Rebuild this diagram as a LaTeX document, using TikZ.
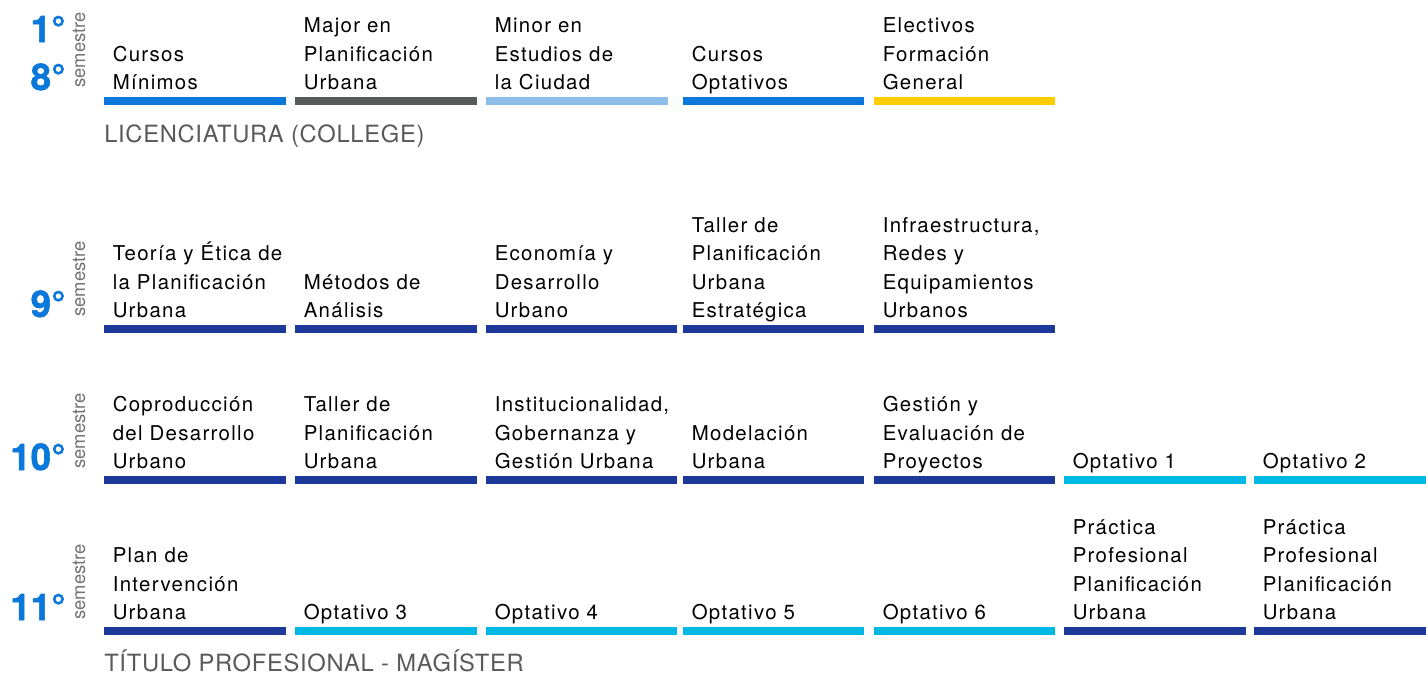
\documentclass[tikz,border=0pt]{standalone}
\usepackage{fontspec}
\setmainfont{TeX Gyre Heros}
\newfontfamily\coursefont[LetterSpace=6.5]{TeX Gyre Heros}
\newfontfamily\headfont[LetterSpace=3]{TeX Gyre Heros}
\newfontfamily\numfont[FakeBold=1.5]{texgyreheros-bold.otf}
\definecolor{midblue}{RGB}{10,120,218}
\definecolor{majorgray}{RGB}{88,89,91}
\definecolor{minorblue}{RGB}{141,190,233}
\definecolor{electyellow}{RGB}{255,204,0}
\definecolor{navy}{RGB}{28,56,152}
\definecolor{optcyan}{RGB}{0,184,228}
\definecolor{headgray}{RGB}{90,90,94}
\definecolor{wordgray}{RGB}{115,115,118}

\begin{document}
\begin{tikzpicture}[x=0.75pt, y=-0.75pt,
                    course/.style={anchor=south west, inner sep=0pt, align=left, text depth=0pt,
                                   font=\coursefont\fontsize{15.3}{21.4}\selectfont},
                    header/.style={anchor=base west, inner sep=0pt, text=headgray,
                                   font=\headfont\fontsize{17.8}{20}\selectfont},
                    semnum/.style={anchor=base east, inner sep=0pt, text=midblue,
                                   font=\numfont\fontsize{27.5}{30}\selectfont},
                    semword/.style={rotate=90, anchor=base west, inner sep=0pt, text=wordgray,
                                    font=\fontsize{13.8}{14}\selectfont}]
  \fill[white] (0,0) rectangle (1426,675);
  \useasboundingbox (0,0) rectangle (1426,675);

  % semester labels
  \node[semnum] (num1) at (66,42) {1°};
  \node[semnum] (num8) at (66,90) {8°};
  \node[semword] (sem1) at (85,88) {semestre};
  \node[semnum] (num9) at (66,317) {9°};
  \node[semword] (sem9) at (85,317) {semestre};
  \node[semnum] (num10) at (66,470) {10°};
  \node[semword] (sem10) at (85,469) {semestre};
  \node[semnum] (num11) at (66,620) {11°};
  \node[semword] (sem11) at (85,620) {semestre};

  % bars
  \foreach \xa/\xb/\c in {104/286/midblue, 295/477/majorgray, 486/668/minorblue,
                          683/864/midblue, 874/1055/electyellow}
    \fill[\c] (\xa,97) rectangle (\xb,105);
  \foreach \xa/\xb/\c in {104/286/navy, 295/477/navy, 486/677/navy,
                          683/864/navy, 874/1055/navy}
    \fill[\c] (\xa,325) rectangle (\xb,333);
  \foreach \xa/\xb/\c in {104/286/navy, 295/477/navy, 486/677/navy, 683/864/navy,
                          874/1055/navy, 1064/1246/optcyan, 1254/1426/optcyan}
    \fill[\c] (\xa,476) rectangle (\xb,484);
  \foreach \xa/\xb/\c in {104/286/navy, 295/477/optcyan, 486/677/optcyan, 683/864/optcyan,
                          874/1055/optcyan, 1064/1246/navy, 1254/1426/navy}
    \fill[\c] (\xa,627) rectangle (\xb,635);

  % college
  \node[course] (minimos) at (112.5,90) {Cursos\\Mínimos};
  \node[course] (major) at (303.5,90) {Major en\\Planificación\\Urbana};
  \node[course] (minor) at (494.5,90) {Minor en\\Estudios de\\la Ciudad};
  \node[course] (optativos) at (691.5,90) {Cursos\\Optativos};
  \node[course] (electivos) at (882.5,90) {Electivos\\Formación\\General};
  \node[header] (college) at (104,142.7) {LICENCIATURA (COLLEGE)};

  % 9th semester
  \node[course] (teoria) at (112.5,318) {Teoría y Ética de\\la Planificación\\Urbana};
  \node[course] (metodos) at (303.5,318) {Métodos de\\Análisis};
  \node[course] (economia) at (494.5,318) {Economía y\\Desarrollo\\Urbano};
  \node[course] (tallerest) at (691.5,318) {Taller de\\Planificación\\Urbana\\Estratégica};
  \node[course] (infra) at (882.5,318) {Infraestructura,\\Redes y\\Equipamientos\\Urbanos};

  % 10th semester
  \node[course] (coprod) at (112.5,469) {Coproducción\\del Desarrollo\\Urbano};
  \node[course] (taller) at (303.5,469) {Taller de\\Planificación\\Urbana};
  \node[course] (instit) at (494.5,469) {Institucionalidad,\\Gobernanza y\\Gestión Urbana};
  \node[course] (modelacion) at (691.5,469) {Modelación\\Urbana};
  \node[course] (gestion) at (882.5,469) {Gestión y\\Evaluación de\\Proyectos};
  \node[course] (opt1) at (1072.5,469) {Optativo 1};
  \node[course] (opt2) at (1262.5,469) {Optativo 2};

  % 11th semester
  \node[course] (plan) at (112.5,620) {Plan de\\Intervención\\Urbana};
  \node[course] (opt3) at (303.5,620) {Optativo 3};
  \node[course] (opt4) at (494.5,620) {Optativo 4};
  \node[course] (opt5) at (691.5,620) {Optativo 5};
  \node[course] (opt6) at (882.5,620) {Optativo 6};
  \node[course] (practica1) at (1072.5,620) {Práctica\\Profesional\\Planificación\\Urbana};
  \node[course] (practica2) at (1262.5,620) {Práctica\\Profesional\\Planificación\\Urbana};
  \node[header] (titulo) at (104,671.7) {TÍTULO PROFESIONAL - MAGÍSTER};
\end{tikzpicture}
\end{document}
